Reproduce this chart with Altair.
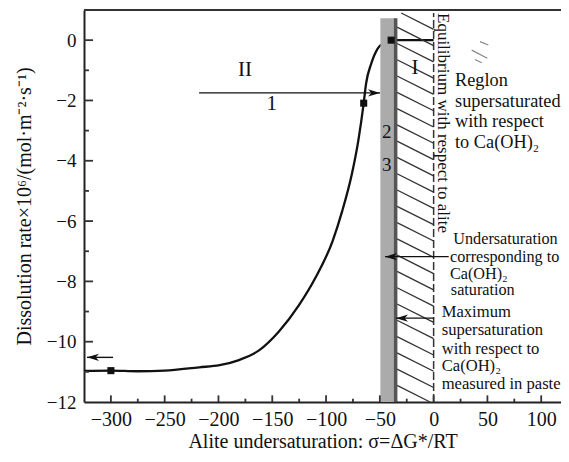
import altair as alt
import pandas as pd

# ---------------- data ----------------
curve_x = [-325, -300, -275, -250, -218, -199, -181, -162, -144, -125, -110, -94,
           -85, -76, -70, -65, -62.8, -58, -52, -45.8, -39.5, -20, 0]
curve_y = [-10.97, -10.96, -10.98, -10.96, -10.85, -10.78, -10.61, -10.28, -9.67,
           -8.78, -7.89, -6.67, -5.67, -4.44, -3.33, -2.09, -1.44, -0.78, -0.28,
           -0.09, 0.0, 0.0, 0.0]
marker_x = [-300, -65, -39.5]
marker_y = [-10.96, -2.09, 0.0]

x_major = [-300, -250, -200, -150, -100, -50, 0, 50, 100]
x_minor = [-275, -225, -175, -125, -75, -25, 25, 75]
y_major = [-12, -10, -8, -6, -4, -2, 0]
y_minor = [-11, -9, -7, -5, -3, -1]

band_x = [-49.5, -34.5]        # grey band (undersaturation range)
band_top = 0.73
edge_x = -35.3                 # dark edge of the band
hatch_x = [-34.0, 0.0]         # hatched region
hatch_top = 0.9
equil_x = 0.0                  # dashed equilibrium line

# arrows: start x, tip x, y
arrow_x1 = [-218, 14.0, 0.5, -298]
arrow_x2 = [-49.8, -45.2, -35.0, -322.2]
arrow_y = [-1.75, -7.18, -9.22, -10.52]
arrow_dir = ["right", "left", "left", "left"]

center_labels = ["II", "1", "I", "2", "3"]
center_x = [-175.3, -150.5, -17.3, -43.6, -43.6]
center_y = [-1.0, -2.12, -0.93, -3.04, -4.14]
center_fs = [21, 21, 21, 19, 19]

block_labels = ["Reglon", "supersaturated", "with respect", "to Ca(OH)₂",
                "Undersaturation", "corresponding to", "Ca(OH)₂", "saturation",
                "Maximum", "supersaturation", "with respect to", "Ca(OH)₂",
                "measured in paste"]
block_x = [19.9, 19.9, 19.9, 19.9,
           18.3, 15.2, 15.2, 16.0,
           7.5, 7.5, 7.5, 7.5, 7.5]
block_y = [-1.36, -2.06, -2.72, -3.42,
           -6.58, -7.19, -7.74, -8.29,
           -9.01, -9.62, -10.23, -10.80, -11.40]
block_fs = [18.3, 18.3, 18.3, 18.3,
            16.2, 16.2, 16.2, 16.2,
            16.6, 16.6, 16.6, 16.6, 16.6]

XDOM = [-325, 118.4]
YDOM = [-12, 1]
W, H = 477, 392
FONT = "Liberation Serif"
INK = "#111111"

xs = alt.Scale(domain=XDOM, nice=False, zero=False)
ys = alt.Scale(domain=YDOM, nice=False, zero=False)

x_axis = alt.Axis(values=x_major, ticks=False, grid=False, domainColor="#222222",
                  domainWidth=2, labelFont=FONT, labelFontSize=20, labelColor=INK,
                  labelPadding=7, labelOverlap=False, labelFlush=False, format="d",
                  title="Alite undersaturation: σ=ΔG*/RT", titleFont=FONT,
                  titleFontSize=20, titleFontWeight="normal", titleColor=INK,
                  titlePadding=2)
y_axis = alt.Axis(values=y_major, ticks=False, grid=False, domainColor="#222222",
                  domainWidth=2, labelFont=FONT, labelFontSize=19, labelColor=INK,
                  labelPadding=8, labelOverlap=False, labelFlush=False, format="d",
                  title="Dissolution rate×10⁶/(mol·m⁻²·s⁻¹)", titleFont=FONT,
                  titleFontSize=20, titleFontWeight="normal", titleColor=INK,
                  titlePadding=12)


def X(f):
    return alt.X(f"{f}:Q", scale=xs, axis=x_axis)


def Y(f):
    return alt.Y(f"{f}:Q", scale=ys, axis=y_axis)


# ---------------- decoration tables ----------------
band_df = pd.DataFrame({"x": [band_x[0]], "x2": [band_x[1]], "y": [YDOM[0]], "y2": [band_top]})
edge_df = pd.DataFrame({"x": [edge_x], "y": [YDOM[0]], "y2": [band_top]})

drop, step = 0.61, 0.54
hl, hr = hatch_x
rows = []
k = 0
while True:
    y0 = hatch_top + drop - k * step
    y1 = y0 - drop
    if y0 <= YDOM[0]:
        break
    xa, ya, xb, yb = hl, y0, hr, y1
    if ya > hatch_top:
        t = (ya - hatch_top) / drop
        xa, ya = hl + t * (hr - hl), hatch_top
    if yb < YDOM[0]:
        t = (y0 - YDOM[0]) / drop
        xb, yb = hl + t * (hr - hl), YDOM[0]
    rows.append({"x": xa, "y": ya, "x2": xb, "y2": yb})
    k += 1
hatch_df = pd.DataFrame(rows)

stray_df = pd.DataFrame({"x": [43.1, 35.4, 38.5], "x2": [50.9, 49.9, 44.7],
                         "y": [-0.05, -0.33, -0.64], "y2": [-0.16, -0.60, -0.75]})

equil_df = pd.DataFrame({"x": [equil_x], "y": [YDOM[0]], "y2": [hatch_top]})
top_df = pd.DataFrame({"x": [XDOM[0]], "x2": [XDOM[1]], "y": [YDOM[1]]})

xt_len_major, xt_len_minor = 0.22, 0.11
yt_len_major, yt_len_minor = 8.4, 4.6
xtick_df = pd.DataFrame(
    [{"x": v, "y": YDOM[0], "y2": YDOM[0] + xt_len_major} for v in x_major] +
    [{"x": v, "y": YDOM[0], "y2": YDOM[0] + xt_len_minor} for v in x_minor])
ytick_df = pd.DataFrame(
    [{"y": v, "x": XDOM[0], "x2": XDOM[0] + yt_len_major} for v in y_major if v > YDOM[0]] +
    [{"y": v, "x": XDOM[0], "x2": XDOM[0] + yt_len_minor} for v in y_minor])

curve_df = pd.DataFrame({"x": curve_x, "y": curve_y})
marker_df = pd.DataFrame({"x": marker_x, "y": marker_y})
arrow_df = pd.DataFrame({"x": arrow_x1, "x2": arrow_x2, "y": arrow_y, "dir": arrow_dir})
center_df = pd.DataFrame({"t": center_labels, "x": center_x, "y": center_y, "fs": center_fs})
block_df = pd.DataFrame({"t": block_labels, "x": block_x, "y": block_y, "fs": block_fs})
vtext_df = pd.DataFrame({"t": ["Equilibrium with respect to alite"], "x": [4.1], "y": [0.9]})

# ---------------- layers ----------------
curve = alt.Chart(curve_df).mark_line(color=INK, strokeWidth=2.3,
                                      interpolate="monotone").encode(
    x=X("x"), y=Y("y"))
band = alt.Chart(band_df).mark_rect(color="#ababab").encode(
    x=X("x"), x2="x2", y=Y("y"), y2="y2")
edge = alt.Chart(edge_df).mark_rule(color="#555555", strokeWidth=3.5).encode(
    x=X("x"), y=Y("y"), y2="y2")
hatch = alt.Chart(hatch_df).mark_rule(color="#333333", strokeWidth=1.3).encode(
    x=X("x"), x2="x2", y=Y("y"), y2="y2")
stray = alt.Chart(stray_df).mark_rule(color="#888888", strokeWidth=1.2).encode(
    x=X("x"), x2="x2", y=Y("y"), y2="y2")
equil = alt.Chart(equil_df).mark_rule(color="#333333", strokeWidth=1.5,
                                      strokeDash=[8, 3]).encode(
    x=X("x"), y=Y("y"), y2="y2")
top = alt.Chart(top_df).mark_rule(color="#333333", strokeWidth=2).encode(
    x=X("x"), x2="x2", y=Y("y"))
xticks = alt.Chart(xtick_df).mark_rule(color="#333333", strokeWidth=1.8).encode(
    x=X("x"), y=Y("y"), y2="y2")
yticks = alt.Chart(ytick_df).mark_rule(color="#333333", strokeWidth=1.8).encode(
    y=Y("y"), x=X("x"), x2="x2")

markers = alt.Chart(marker_df).mark_square(color=INK, size=50, opacity=1).encode(
    x=X("x"), y=Y("y"))

arrow_lines = alt.Chart(arrow_df).mark_rule(color=INK, strokeWidth=1.4).encode(
    x=X("x"), x2="x2", y=Y("y"))
head_r = alt.Chart(arrow_df[arrow_df["dir"] == "right"]).mark_point(
    shape="M0,0L-2,-0.6L-1.45,0L-2,0.6Z", filled=True, size=144, color=INK,
    opacity=1, strokeWidth=0).encode(x=X("x2"), y=Y("y"))
head_l = alt.Chart(arrow_df[arrow_df["dir"] == "left"]).mark_point(
    shape="M0,0L2,-0.6L1.45,0L2,0.6Z", filled=True, size=144, color=INK,
    opacity=1, strokeWidth=0).encode(x=X("x2"), y=Y("y"))

center_text = alt.Chart(center_df).mark_text(font=FONT, color=INK, align="center",
                                             baseline="middle").encode(
    x=X("x"), y=Y("y"), text="t:N", size=alt.Size("fs:Q", scale=None))
block_text = alt.Chart(block_df).mark_text(font=FONT, color=INK, align="left",
                                           baseline="middle").encode(
    x=X("x"), y=Y("y"), text="t:N", size=alt.Size("fs:Q", scale=None))
vtext = alt.Chart(vtext_df).mark_text(font=FONT, color=INK, align="left",
                                      baseline="alphabetic", fontSize=17,
                                      angle=90).encode(
    x=X("x"), y=Y("y"), text="t:N")

chart = alt.layer(
    curve, band, hatch, stray, edge, equil, top, xticks, yticks,
    markers, arrow_lines, head_r, head_l,
    center_text, block_text, vtext
).properties(
    width=W, height=H,
    autosize=alt.AutoSizeParams(type="none"),
    padding={"left": 76, "top": 2, "right": 0, "bottom": 52},
    background="white",
).configure_view(stroke=None)

chart.save("out.html", embed_options={"renderer": "svg", "actions": False})
